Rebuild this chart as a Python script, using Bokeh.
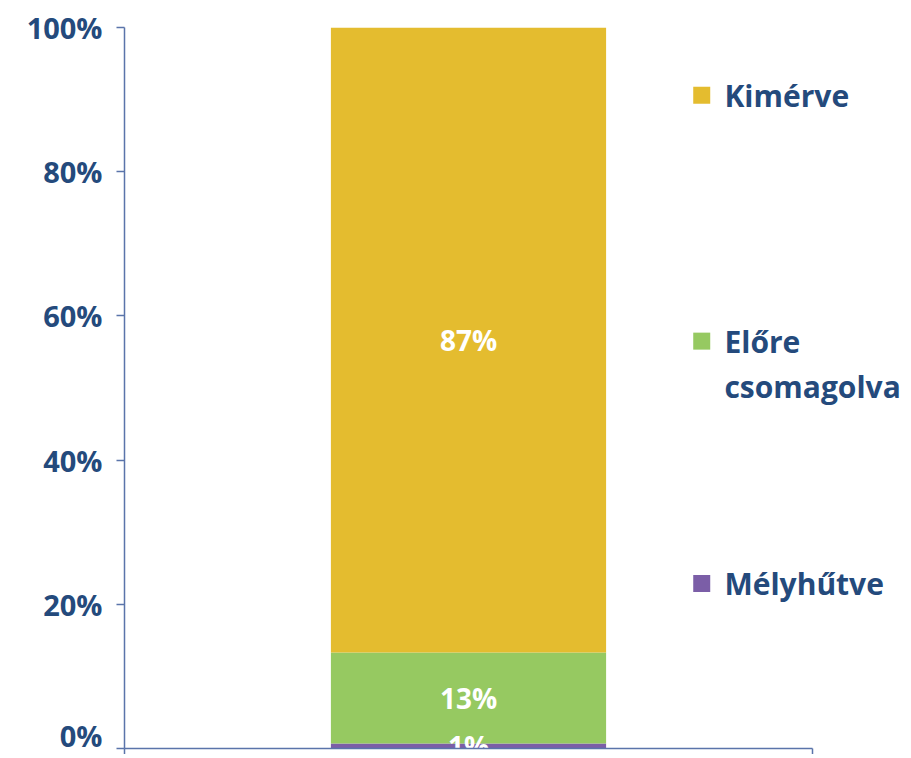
from bokeh.plotting import figure
from bokeh.models import Range1d, FixedTicker, ColumnDataSource
from bokeh.core.properties import value
from bokeh.embed import file_html
from bokeh.resources import INLINE

# ---- data ----
series = ["Mélyhűtve", "Előre csomagolva", "Kimérve"]
legend_lines = [["Mélyhűtve"], ["Előre", "csomagolva"], ["Kimérve"]]
shares = [0.7, 12.6, 86.7]          # percent, stacked bottom -> top
colors = ["#7B5EA7", "#96C961", "#E4BC2F"]
y_ticks = [0, 20, 40, 60, 80, 100]
y_tick_labels = ["0%", "20%", "40%", "60%", "80%", "100%"]
legend_y = [22.9, 56.5, 90.6]       # legend anchor positions (layout)

TEXT = "#244A7C"
AXIS = "#5A74AA"
FONT = "Open Sans"

W, H = 903, 754
p = figure(width=W, height=H, output_backend="svg", toolbar_location=None,
           x_range=Range1d(0, (W - 124) / 688), y_range=Range1d(0, 100),
           min_border_left=124, min_border_right=0, min_border_top=27,
           min_border_bottom=0)
p.outline_line_color = None
p.grid.visible = False
p.background_fill_color = "white"
p.border_fill_color = "white"

# y axis
p.yaxis.ticker = FixedTicker(ticks=y_ticks)
p.yaxis.major_label_overrides = {t: l for t, l in zip(y_ticks, y_tick_labels)}
p.yaxis.axis_line_color = AXIS
p.yaxis.axis_line_width = 1.5
p.yaxis.major_tick_line_color = AXIS
p.yaxis.major_tick_line_width = 1.5
p.yaxis.major_tick_out = 8
p.yaxis.major_tick_in = 0
p.yaxis.minor_tick_line_color = None
p.yaxis.major_label_standoff = 14
p.yaxis.major_label_text_font = FONT
p.yaxis.major_label_text_font_style = "bold"
p.yaxis.major_label_text_font_size = "29px"
p.yaxis.major_label_text_color = TEXT

# x axis: line from 0 to 1 only, no labels
p.xaxis.bounds = (0, 1)
p.xaxis.ticker = FixedTicker(ticks=[0, 1])
p.xaxis.major_label_overrides = {0: "", 1: ""}
p.xaxis.axis_line_color = AXIS
p.xaxis.axis_line_width = 1.5
p.xaxis.major_tick_line_color = AXIS
p.xaxis.major_tick_line_width = 1.5
p.xaxis.major_tick_out = 6
p.xaxis.major_tick_in = 0
p.xaxis.minor_tick_line_color = None
p.xaxis.major_label_standoff = 0

# stacked bar
bottoms, tops = [], []
acc = 0.0
for s in shares:
    bottoms.append(acc)
    acc += s
    tops.append(acc)
src = ColumnDataSource(dict(
    x=[0.5] * len(shares), bottom=bottoms, top=tops, color=colors,
    mid=[(b + t) / 2 for b, t in zip(bottoms, tops)],
    label=[f"{round(s)}%" for s in shares],
))
p.vbar(x="x", width=0.4, bottom="bottom", top="top", fill_color="color",
       line_color=None, source=src)
p.text(x="x", y="mid", text="label", source=src, text_color="white",
       text_font=value(FONT), text_font_style="bold", text_font_size="28px",
       text_align="center", text_baseline="middle")

# legend (manual)
lx_box = 0.839
lx_txt = 0.872
p.scatter(x=[lx_box] * len(series), y=legend_y, marker="square", size=17,
          fill_color=colors, line_color=None)
for lines, ly in zip(legend_lines, legend_y):
    for i, ln in enumerate(lines):
        p.text(x=[lx_txt], y=[ly], text=[ln], y_offset=i * 45,
               text_color=TEXT, text_font=value(FONT), text_font_style="bold",
               text_font_size="30px", text_align="left", text_baseline="middle")

open("out.html", "w").write(file_html(p, INLINE))
